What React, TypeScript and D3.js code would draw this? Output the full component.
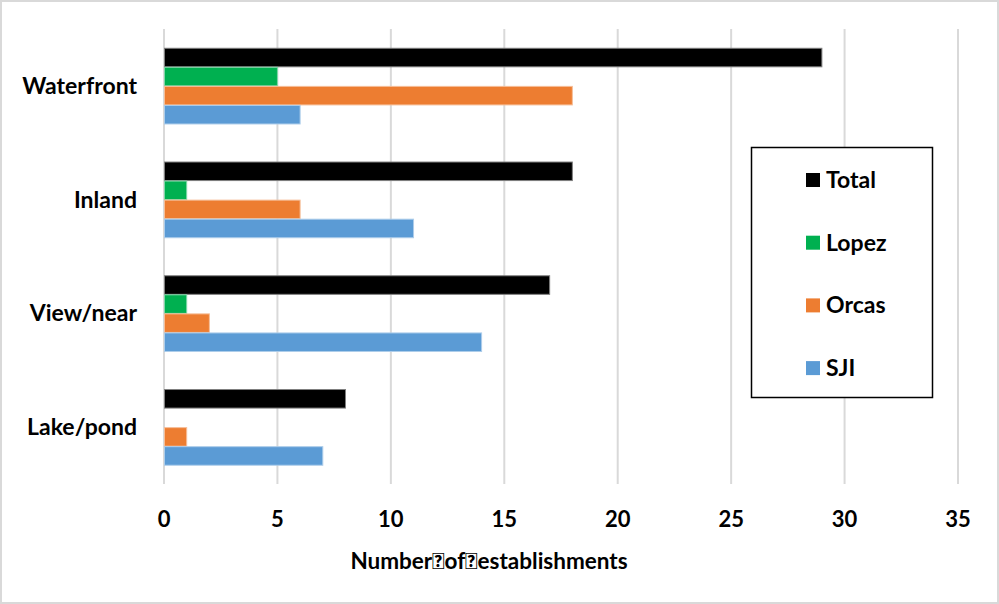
import { useEffect, useRef } from 'react';
import * as d3 from 'd3';

const categories = ['Waterfront', 'Inland', 'View/near', 'Lake/pond'];
const seriesNames = ['Total', 'Lopez', 'Orcas', 'SJI'];
const seriesColors = ['#000000', '#00b050', '#ed7d31', '#5b9bd5'];
const seriesStrokes = ['#7f7f7f', '#7fd7a7', '#f6be98', '#adcdea'];
const totalValues = [29, 18, 17, 8];
const lopezValues = [5, 1, 1, 0];
const orcasValues = [18, 6, 2, 1];
const sjiValues = [6, 11, 14, 7];
const xTicks = [0, 5, 10, 15, 20, 25, 30, 35];
const xTitle = 'Number\uF020of\uF020establishments';

const FONT = 'Lato, "Open Sans", sans-serif';

export default function App() {
  const svgRef = useRef<SVGSVGElement>(null);

  useEffect(() => {
    if (!svgRef.current) return;
    const svg = d3.select(svgRef.current);
    svg.selectAll('*').remove();

    const W = 999;
    const H = 604;
    const margin = { top: 29, right: 41, bottom: 120, left: 164 };
    const width = W - margin.left - margin.right;
    const height = H - margin.top - margin.bottom;

    // chart border
    svg
      .append('rect')
      .attr('x', 1)
      .attr('y', 1)
      .attr('width', W - 2)
      .attr('height', H - 2)
      .attr('fill', '#fff')
      .attr('stroke', '#d9d9d9')
      .attr('stroke-width', 2);

    const g = svg.append('g').attr('transform', `translate(${margin.left},${margin.top})`);

    const x = d3.scaleLinear().domain([0, 35]).range([0, width]);
    const y = d3.scaleBand().domain(categories).range([0, height]).paddingInner(0.33).paddingOuter(0.165);
    const ySeries = d3.scaleBand().domain(seriesNames).range([0, y.bandwidth()]);

    // grid
    g.append('g')
      .selectAll('line')
      .data(xTicks)
      .join('line')
      .attr('x1', (d) => x(d))
      .attr('x2', (d) => x(d))
      .attr('y1', 0)
      .attr('y2', height)
      .attr('stroke', '#d9d9d9')
      .attr('stroke-width', 2);

    const allValues = [totalValues, lopezValues, orcasValues, sjiValues];
    seriesNames.forEach((s, si) => {
      g.append('g')
        .selectAll('rect')
        .data(categories.map((c, ci) => ({ c, v: allValues[si][ci] })).filter((d) => d.v > 0))
        .join('rect')
        .attr('x', x(0) + 0.5)
        .attr('y', (d) => (y(d.c) ?? 0) + (ySeries(s) ?? 0) + 0.5)
        .attr('width', (d) => x(d.v) - x(0) - 0.5)
        .attr('height', ySeries.bandwidth() - 0.5)
        .attr('fill', seriesColors[si])
        .attr('stroke', seriesStrokes[si])
        .attr('stroke-width', 1);
    });

    // category labels
    g.append('g')
      .selectAll('text')
      .data(categories)
      .join('text')
      .attr('x', -27)
      .attr('y', (d) => (y(d) ?? 0) + y.bandwidth() / 2)
      .attr('dy', '0.35em')
      .attr('text-anchor', 'end')
      .attr('font-family', FONT)
      .attr('font-weight', 'bold')
      .attr('font-size', 23)
      .attr('fill', '#000')
      .text((d) => d);

    // x tick labels
    g.append('g')
      .selectAll('text')
      .data(xTicks)
      .join('text')
      .attr('x', (d) => x(d))
      .attr('y', height + 35)
      .attr('dy', '0.35em')
      .attr('text-anchor', 'middle')
      .attr('font-family', FONT)
      .attr('font-weight', 'bold')
      .attr('font-size', 22)
      .attr('fill', '#000')
      .text((d) => d);

    // axis title
    g.append('text')
      .attr('x', 489 - margin.left)
      .attr('y', height + 77)
      .attr('dy', '0.35em')
      .attr('text-anchor', 'middle')
      .attr('font-family', FONT)
      .attr('font-weight', 'bold')
      .attr('font-size', 22.5)
      .attr('fill', '#000')
      .text(xTitle);

    // legend
    const legend = svg.append('g');
    legend
      .append('rect')
      .attr('x', 751.5)
      .attr('y', 147.5)
      .attr('width', 181)
      .attr('height', 250)
      .attr('fill', '#fff')
      .attr('stroke', '#000')
      .attr('stroke-width', 1.5);
    seriesNames.forEach((s, i) => {
      const ly = 180 + i * 62.7;
      legend
        .append('rect')
        .attr('x', 806)
        .attr('y', ly - 7)
        .attr('width', 14)
        .attr('height', 14)
        .attr('fill', seriesColors[i]);
      legend
        .append('text')
        .attr('x', 826)
        .attr('y', ly)
        .attr('dy', '0.35em')
        .attr('font-family', FONT)
        .attr('font-weight', 'bold')
        .attr('font-size', 23)
        .attr('fill', '#000')
        .text(s);
    });
  }, []);

  return (
    <svg
      ref={svgRef}
      width={999}
      height={604}
      style={{ position: 'absolute', left: 0, top: 0 }}
    />
  );
}
